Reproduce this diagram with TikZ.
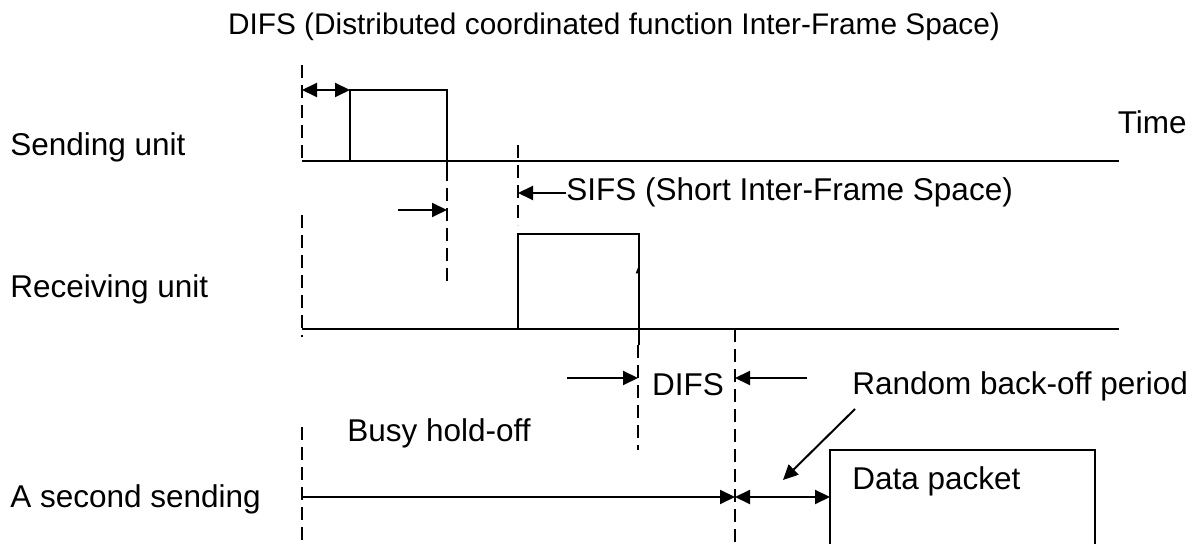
\documentclass[tikz,border=0pt]{standalone}
\usepackage{fontspec}
\setmainfont{Liberation Sans}
\usetikzlibrary{arrows.meta}
\begin{document}
\begin{tikzpicture}[x=0.5pt,y=-0.5pt,
  ln/.style={line width=1pt},
  dsh/.style={line width=1pt,dash pattern=on 6.5pt off 3.5pt},
  arr/.style={line width=1pt,-{Triangle[length=7.5pt,width=7pt]}},
  darr/.style={line width=1pt,{Triangle[length=7.5pt,width=7pt]}-{Triangle[length=7.5pt,width=7pt]}},
  lbl/.style={inner sep=0pt,anchor=base west,font=\fontsize{15.75}{18}\selectfont},
  ttl/.style={inner sep=0pt,anchor=base,font=\fontsize{14.9}{18}\selectfont},
]
\useasboundingbox (0,0) rectangle (1195,544);
% texts
\node[ttl] (title) at (614,35) {DIFS (Distributed coordinated function Inter-Frame Space)};
\node[lbl] (send) at (10,156) {Sending unit};
\node[lbl] (recv) at (10,298) {Receiving unit};
\node[lbl] (second) at (10,508) {A second sending};
\node[lbl,anchor=base east] (time) at (1187,134) {Time};
\node[lbl] (sifs) at (566,201) {SIFS (Short Inter-Frame Space)};
\node[lbl,anchor=base] (difs) at (688,396) {DIFS};
\node[lbl] (rand) at (852,395) {Random back-off period};
\node[lbl] (busy) at (347,442) {Busy hold-off};
\node[lbl] (data) at (852,490) {Data packet};
% coordinates
\coordinate (t1a) at (302,161); \coordinate (t1b) at (1119,161);
\coordinate (t2a) at (302,329); \coordinate (t2b) at (1119,329);
\coordinate (t3a) at (302,497); \coordinate (t3m) at (735,497); \coordinate (t3b) at (830,497);
% timelines
\draw[ln] (t1a) -- (t1b);
\draw[ln] (t2a) -- (t2b);
\draw[arr] (t3a) -- (t3m);
\draw[darr] (t3m) -- (t3b);
% sending box
\draw[ln] (350,161) -- (350,90) -- (447,90) -- (447,168);
% receiving box
\draw[ln] (518,329) -- (518,234) -- (639,234) -- (639,345);
\fill (639,265) -- (635.7,273.3) -- (639,273.3) -- cycle;
% data packet box
\draw[ln] (830,544) -- (830,450) -- (1095,450) -- (1095,544);
% dashed verticals
\draw[dsh] (302,65) -- (t1a);
\draw[dsh] (302,215) -- (302,337);
\draw[dsh] (302,427) -- (302,544);
\draw[dsh] (447,168) -- (447,282);
\draw[dsh] (518,145) -- (518,225);
\draw[dsh] (638,345) -- (638,450);
\draw[dsh] (735,329) -- (735,544);
% arrows
\coordinate (d1a) at (302,90); \coordinate (d1b) at (350,90);
\draw[darr] (d1a) -- (d1b);
\coordinate (a1a) at (398,210); \coordinate (a1b) at (447,210);
\draw[arr] (a1a) -- (a1b);
\coordinate (a2b) at (518,193);
\draw[arr] (sifs.west |- a2b) -- (a2b);
\coordinate (a3a) at (567,378); \coordinate (a3b) at (638,378);
\draw[arr] (a3a) -- (a3b);
\coordinate (a4a) at (807,378); \coordinate (a4b) at (735,378);
\draw[arr] (a4a) -- (a4b);
\coordinate (a5a) at (855,409); \coordinate (a5b) at (783,480);
\draw[arr] (a5a) -- (a5b);
\end{tikzpicture}
\end{document}
